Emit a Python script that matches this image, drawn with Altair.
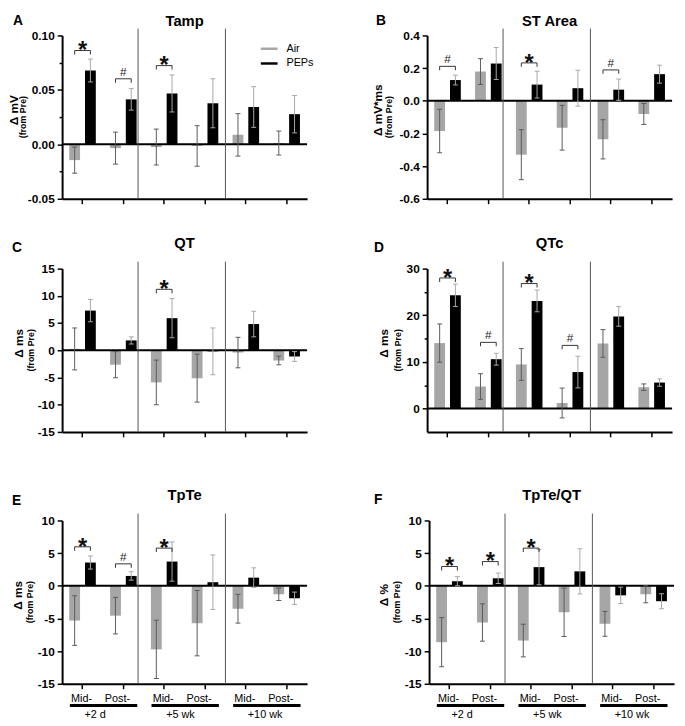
import json
import altair as alt
import pandas as pd

# ---------------- data ----------------
conds = ["+2 d Mid-", "+2 d Post-", "+5 wk Mid-", "+5 wk Post-", "+10 wk Mid-", "+10 wk Post-"]
groups = ["Air", "PEPs"]
timepoints = ["+2 d", "+5 wk", "+10 wk"]

# A  Tamp
tamp_air = [-0.0145, -0.0035, -0.0025, -0.0015, 0.0087, 0.0012]
tamp_air_sem = [0.0120, 0.0147, 0.0165, 0.0186, 0.0195, 0.0110]
tamp_peps = [0.0678, 0.0413, 0.0467, 0.0377, 0.0343, 0.0277]
tamp_peps_sem = [0.0105, 0.0099, 0.0170, 0.0225, 0.0187, 0.0172]
tamp_sig = [("+2 d Mid-", "*", 0.0862), ("+2 d Post-", "#", 0.0602), ("+5 wk Mid-", "*", 0.0723)]

# B  ST Area
st_air = [-0.185, 0.179, -0.330, -0.165, -0.236, -0.081]
st_air_sem = [0.133, 0.079, 0.153, 0.137, 0.120, 0.064]
st_peps = [0.127, 0.228, 0.099, 0.077, 0.068, 0.163]
st_peps_sem = [0.030, 0.098, 0.082, 0.110, 0.065, 0.055]
st_sig = [("+2 d Mid-", "#", 0.211), ("+5 wk Mid-", "*", 0.232), ("+10 wk Mid-", "#", 0.189)]

# C  QT
qt_air = [0.25, -2.65, -5.90, -5.12, -0.42, -1.87]
qt_air_sem = [3.85, 2.40, 4.10, 4.40, 2.80, 0.80]
qt_peps = [7.29, 1.81, 5.90, -0.20, 4.82, -1.14]
qt_peps_sem = [2.05, 0.66, 3.60, 4.30, 2.35, 0.90]
qt_sig = [("+5 wk Mid-", "*", 11.2)]

# D  QTc
qtc_air = [14.04, 4.73, 9.46, 1.20, 13.97, 4.59]
qtc_air_sem = [4.10, 2.75, 3.40, 3.20, 2.96, 0.70]
qtc_peps = [24.28, 10.59, 23.08, 7.83, 19.76, 5.58]
qtc_peps_sem = [2.40, 1.27, 2.33, 3.39, 2.10, 0.78]
qtc_sig = [("+2 d Mid-", "*", 28.0), ("+2 d Post-", "#", 14.2), ("+5 wk Mid-", "*", 26.8), ("+5 wk Post-", "#", 13.55)]

# E  TpTe
tpte_air = [-5.32, -4.57, -9.73, -5.72, -3.51, -1.30]
tpte_air_sem = [3.80, 2.80, 4.46, 5.00, 2.20, 0.95]
tpte_peps = [3.56, 1.51, 3.71, 0.55, 1.25, -1.91]
tpte_peps_sem = [1.00, 0.65, 3.00, 4.17, 1.50, 0.95]
tpte_sig = [("+2 d Mid-", "*", 5.97), ("+2 d Post-", "#", 3.36), ("+5 wk Mid-", "*", 5.77)]

# F  TpTe/QT
ratio_air = [-8.63, -5.62, -8.38, -4.06, -5.82, -1.30]
ratio_air_sem = [3.76, 2.86, 2.50, 3.70, 1.90, 1.30]
ratio_peps = [0.70, 1.15, 2.86, 2.21, -1.46, -2.36]
ratio_peps_sem = [0.70, 0.80, 2.70, 3.46, 1.25, 1.15]
ratio_sig = [("+2 d Mid-", "*", 2.96), ("+2 d Post-", "*", 3.71), ("+5 wk Mid-", "*", 5.77)]

# ---------------- styling ----------------
W, H = 249, 166
FONT = "Liberation Sans"
AIR_C, PEPS_C = "#a6a6a6", "#000000"
ERR_C = {"Air": "#5a5a5a", "PEPs": "#a8a8a8"}

xscale = alt.Scale(domain=conds, paddingInner=0, paddingOuter=0)
oscale = alt.Scale(domain=groups, paddingInner=0.3125, paddingOuter=0.453)
XO = alt.XOffset("grp:N", scale=oscale)


def X(field="cond", **kw):
    return alt.X(f"{field}:N", scale=xscale, title=None, **kw)


def text_layer(txt, x, y, **mk):
    return alt.Chart(pd.DataFrame({"t": [txt]})).mark_text(**mk).encode(
        text="t:N", x=alt.value(x), y=alt.value(y))


def panel(letter, title, ylab, air, air_e, peps, peps_e, sig, ydomain, yticks, yminor, fmt,
          main_x, sub_x, letter_x, letter_y, title_y, bottom=False, legend=False, anchor=None):
    rows = []
    for i, c in enumerate(conds):
        for g, m, e in (("Air", air[i], air_e[i]), ("PEPs", peps[i], peps_e[i])):
            rows.append({"cond": c, "grp": g, "val": m, "lo": m - e, "hi": m + e})
    df = pd.DataFrame(rows)
    sig_df = pd.DataFrame(sig, columns=["cond", "sym", "level"])
    sig_end = sig_df.merge(pd.DataFrame({"grp": groups}), how="cross")

    yscale = alt.Scale(domain=ydomain, nice=False, zero=False)
    minor_js = json.dumps(yminor)
    fmt_expr = f"replace(format(datum.value, '{fmt}'), '\u2212', '-')"
    if yminor:
        label_expr = f"indexof({minor_js}, datum.value) >= 0 ? '' : {fmt_expr}"
        tick_size = {"condition": {"test": f"indexof({minor_js}, datum.value) >= 0", "value": 3}, "value": 5}
    else:
        label_expr = fmt_expr
        tick_size = 5
    all_vals = yticks + yminor
    yaxis = alt.Axis(values=all_vals, tickCount=len(all_vals) + 5, labelExpr=label_expr, labelFontSize=12,
                     labelFontWeight="bold", labelColor="black", labelPadding=3, labelOverlap=False,
                     tickColor="black", tickWidth=1.5, tickSize=tick_size,
                     domainColor="black", domainWidth=2, grid=False, title=None)
    xkw = dict(title=None, grid=False, ticks=True, tickSize=5, tickColor="black", tickWidth=1.5,
               domainColor="black", domainWidth=2)
    if bottom:
        xaxis = alt.Axis(labels=True, labelAngle=0, labelFontSize=11, labelColor="black",
                         labelPadding=4, labelFont=FONT, labelOverlap=False,
                         labelExpr="indexof(datum.label, 'Post') >= 0 ? 'Post-' : 'Mid-'",
                         labelOffset={"condition": {"test": "indexof(datum.label, 'Post') >= 0", "value": -6}, "value": -1},
                         **xkw)
    else:
        xaxis = alt.Axis(labels=False, **xkw)

    Y = lambda f: alt.Y(f"{f}:Q", scale=yscale, title=None)

    if legend:
        leg = alt.Legend(title=None, orient="none", legendX=205, legendY=8,
                         symbolType="M-1.7,-0.25H1.7V0.25H-1.7Z", symbolSize=100,
                         symbolStrokeWidth=0, labelFontSize=11, labelFont=FONT,
                         labelColor="black", labelOffset=12, rowPadding=3)
    else:
        leg = None

    base = alt.Chart(df)
    layers = []
    layers.append(base.mark_bar().encode(
        x=alt.X("cond:N", scale=xscale, axis=xaxis, title=None),
        xOffset=XO,
        y=alt.Y("val:Q", scale=yscale, axis=yaxis, title=None, stack=None),
        y2=alt.datum(0),
        color=alt.Color("grp:N", scale=alt.Scale(domain=groups, range=[AIR_C, PEPS_C]), legend=leg),
    ))
    layers.append(alt.Chart(pd.DataFrame({"z": [0]})).mark_rule(color="black", strokeWidth=2).encode(y=Y("z")))
    # separators
    layers.append(alt.Chart(pd.DataFrame({"c": [conds[1]]})).mark_rule(color="#555555", strokeWidth=1).encode(
        x=X("c", bandPosition=0.86), y=alt.value(-7), y2=alt.value(H)))
    layers.append(alt.Chart(pd.DataFrame({"c": [conds[3]]})).mark_rule(color="#555555", strokeWidth=1).encode(
        x=X("c", bandPosition=1.0), y=alt.value(-7), y2=alt.value(H)))
    # error bars
    for g in groups:
        sub = base.transform_filter(f"datum.grp == '{g}'")
        layers.append(sub.mark_rule(color=ERR_C[g], strokeWidth=1).encode(
            x=X(), xOffset=XO, y=Y("lo"), y2="hi:Q"))
        layers.append(sub.transform_fold(["lo", "hi"], as_=["k", "v"]).mark_tick(
            color=ERR_C[g], size=5, thickness=1, opacity=1, orient="horizontal").encode(
            x=X(), xOffset=XO, y=Y("v")))
    # significance brackets
    layers.append(alt.Chart(sig_df).mark_tick(color="#333333", size=16, thickness=1, opacity=1,
                                              orient="horizontal").encode(x=X(), y=Y("level")))
    layers.append(alt.Chart(sig_end).mark_tick(color="#333333", size=4, thickness=1, opacity=1,
                                               orient="vertical", yOffset=2).encode(
        x=X(), xOffset=XO, y=Y("level")))
    layers.append(alt.Chart(sig_df).transform_filter("datum.sym == '*'").mark_text(
        fontSize=24, fontWeight="bold", baseline="alphabetic", dy=8, color="#111111").encode(
        x=X(), y=Y("level"), text="sym:N"))
    layers.append(alt.Chart(sig_df).transform_filter("datum.sym == '#'").mark_text(
        fontSize=12, baseline="alphabetic", dy=-3, color="#222222").encode(
        x=X(), y=Y("level"), text="sym:N"))
    # texts
    layers.append(text_layer(title, W / 2, title_y, fontSize=15, fontWeight="bold", align="center",
                             baseline="alphabetic", color="black"))
    layers.append(text_layer(letter, letter_x, letter_y, fontSize=14, fontWeight="bold", align="left",
                             baseline="alphabetic", color="black"))
    layers.append(text_layer(ylab, main_x, H / 2 - 7, fontSize=12, fontWeight="bold", angle=270,
                             align="center", baseline="middle", color="black"))
    layers.append(text_layer("(from Pre)", sub_x, H / 2, fontSize=9, fontWeight="bold", angle=270,
                             align="center", baseline="middle", color="black"))
    if anchor is not None:
        layers.append(alt.Chart(pd.DataFrame({"a": [0]})).mark_rule(opacity=0, strokeWidth=1).encode(
            x=alt.value(anchor), y=alt.value(0), y2=alt.value(H)))
    if bottom:
        tp_df = pd.DataFrame({"tp": timepoints,
                              "mid": [t + " Mid-" for t in timepoints],
                              "post": [t + " Post-" for t in timepoints]})
        layers.append(alt.Chart(tp_df).mark_rule(color="black", strokeWidth=3).encode(
            x=X("mid", bandPosition=0.19), x2=alt.X2("post:N", bandPosition=0.84), y=alt.value(H + 22)))
        layers.append(alt.Chart(tp_df).mark_text(fontSize=11, align="left", dx=2, baseline="alphabetic",
                                                 color="black").encode(
            x=X("mid"), y=alt.value(H + 35), text="tp:N"))
    return alt.layer(*layers).properties(width=W, height=H)


pA = panel("A", "Tamp", "\u0394 mV", tamp_air, tamp_air_sem, tamp_peps, tamp_peps_sem, tamp_sig,
           [-0.05, 0.10], [-0.05, 0.0, 0.05, 0.10], [-0.025, 0.025, 0.075], ".2f",
           -49, -40, -50, -11, -10, legend=True)
pB = panel("B", "ST Area", "\u0394 mV*ms", st_air, st_air_sem, st_peps, st_peps_sem, st_sig,
           [-0.6, 0.4], [-0.6, -0.4, -0.2, 0.0, 0.2, 0.4], [], ".1f",
           -50, -39, -52, -11, -10)
pC = panel("C", "QT", "\u0394 ms", qt_air, qt_air_sem, qt_peps, qt_peps_sem, qt_sig,
           [-15, 15], [-15, -10, -5, 0, 5, 10, 15], [], "d",
           -44, -32, -51, -17, -21)
pD = panel("D", "QTc", "\u0394 ms", qtc_air, qtc_air_sem, qtc_peps, qtc_peps_sem, qtc_sig,
           [-5, 30], [0, 10, 20, 30], [5, 15, 25], "d",
           -44, -30, -54, -17, -21)
pE = panel("E", "TpTe", "\u0394 ms", tpte_air, tpte_air_sem, tpte_peps, tpte_peps_sem, tpte_sig,
           [-15, 10], [-15, -10, -5, 0, 5, 10], [], "d",
           -45, -33, -51, -16, -21, bottom=True, anchor=-55)
pF = panel("F", "TpTe/QT", "\u0394 %", ratio_air, ratio_air_sem, ratio_peps, ratio_peps_sem, ratio_sig,
           [-15, 10], [-15, -10, -5, 0, 5, 10], [], "d",
           -46, -33, -56, -17, -21, bottom=True)

grid = alt.concat(pA, pB, pC, pD, columns=2, spacing={"row": 71, "column": 122}, bounds="flush")
grid = grid.resolve_scale(color="independent").resolve_legend(color="independent")
row3 = alt.hconcat(pE, pF, spacing=124, bounds="flush").resolve_scale(color="independent").resolve_legend(color="independent")
chart = alt.vconcat(grid, row3, spacing=51).resolve_scale(color="independent").resolve_legend(color="independent")

chart = chart.properties(padding={"left": 0, "top": 0, "right": 2, "bottom": 0}).configure(
    font=FONT).configure_view(stroke=None)

chart.save("out.html", embed_options={"renderer": "svg", "actions": False})
